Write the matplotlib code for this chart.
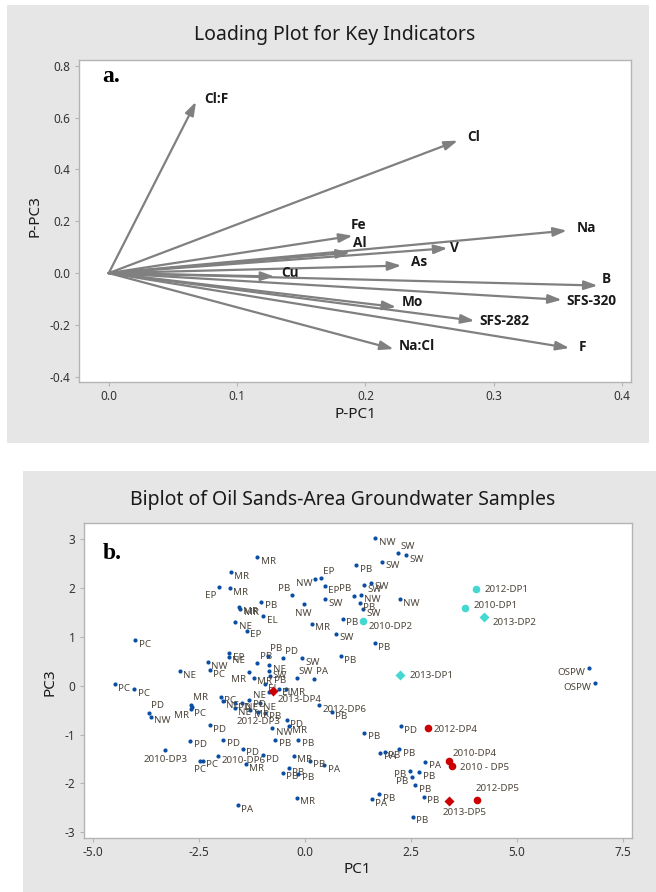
import matplotlib
matplotlib.use("Agg")
import matplotlib.pyplot as plt
from matplotlib.patches import Rectangle
from matplotlib.ticker import FormatStrFormatter

plt.rcParams['font.family'] = ['Noto Sans', 'DejaVu Sans']
plt.rcParams['axes.unicode_minus'] = False

# ---- loadings (panel a) ----
load_names = ['Cl:F', 'Cl', 'Fe', 'Al', 'Na', 'V', 'As', 'Cu', 'B',
              'SFS-320', 'Mo', 'SFS-282', 'Na:Cl', 'F']
load_pc1 = [0.068, 0.272, 0.190, 0.188, 0.357, 0.264, 0.228, 0.129, 0.381,
            0.353, 0.224, 0.285, 0.222, 0.359]
load_pc3 = [0.661, 0.511, 0.144, 0.079, 0.164, 0.096, 0.029, -0.013, -0.048,
            -0.103, -0.131, -0.184, -0.293, -0.289]

# ---- sample scores (panel b) ----
site = ['NW', 'SW', 'SW', 'MR', 'SW', 'PB', 'MR', 'NW', 'EP', 'EP',
        'EP', 'MR', 'SW', 'SW', 'PB', 'PB', 'NW', 'PB', 'SW', 'NW',
        'NW', 'SW', 'PB', 'MR', 'MR', 'EL', 'NE', 'EP', 'MR', 'PB',
        'SW', 'PB', 'PC', 'PB', 'EP', 'NE', 'NW', 'PC', 'NE', 'PB',
        'PB', 'PD', 'SW', 'NE', 'SW', 'PB', 'MR', 'MR', 'SW', 'PA',
        'EL', 'EL', 'MR', 'NE', 'PB', 'PC', 'PC', 'PD', 'NW', 'MR',
        'MR', 'PC', 'PC', 'NE', 'PD', 'NE', 'NE', 'PD', 'MR', 'NE',
        'PB', '2012-DP3', 'PD', 'NW', 'MR', 'PD', 'PD', 'PD', 'PD', 'PD',
        '2010-DP3', 'PC', 'PC', '2010-DP6', 'MR', 'PB', 'PB', 'MR', 'PB', 'PA',
        'PB', 'PB', 'PB', 'MR', 'PA', 'PB', 'PD', 'PB', 'PA', 'PB',
        'PA', 'PB', 'PB', 'PB', 'PB', 'PB', 'PB', 'PA', 'PB', '2012-DP6',
        'OSPW', 'OSPW']
pc1 = [1.66, 2.20, 2.39, -1.12, 1.81, 1.21, -1.75, 0.25, 0.39, 0.47,
       -2.03, -1.77, 1.39, 1.57, -0.30, 1.15, 1.32, 1.30, 1.36, 2.24,
       -0.03, 0.47, -1.03, -1.55, -1.52, -0.98, -1.64, -1.37, 0.16, 0.90,
       0.74, 1.645, -4.00, 0.85, -1.78, -1.80, -2.29, -2.24, -2.95, -1.12,
       -0.88, -0.51, -0.07, -0.84, -0.84, -0.82, -1.32, -1.21, -0.19, 0.22,
       -0.95, -0.62, -0.44, -0.84, 0.64, -4.49, -4.03, -3.69, -3.64, -2.68,
       -2.66, -2.69, -1.98, -1.94, -1.65, -1.49, -1.65, -1.31, -1.29, -1.06,
       -0.94, -1.10, -0.43, -0.77, -0.38, -2.24, -2.71, -1.93, -1.47, -1.00,
       -3.29, -2.48, -2.41, -2.06, -1.39, -0.70, -0.16, -0.26, 0.11, 0.46,
       -0.38, -0.52, -0.16, -0.19, -1.58, 1.40, 2.26, 2.23, 1.775, 1.89,
       2.84, 2.48, 2.70, 2.52, 2.60, 2.81, 1.76, 1.58, 2.54, 0.33,
       6.71, 6.85]
pc3 = [3.02, 2.71, 2.67, 2.63, 2.54, 2.47, 2.33, 2.18, 2.20, 2.04,
       2.02, 2.00, 2.06, 2.11, 1.85, 1.84, 1.86, 1.69, 1.57, 1.77,
       1.68, 1.77, 1.72, 1.61, 1.58, 1.42, 1.31, 1.13, 1.27, 1.375,
       1.07, 0.88, 0.94, 0.61, 0.665, 0.60, 0.49, 0.32, 0.30, 0.46,
       0.62, 0.56, 0.56, 0.42, 0.30, 0.20, 0.29, 0.17, 0.15, 0.14,
       0.04, -0.06, -0.06, -0.12, -0.54, 0.03, -0.065, -0.56, -0.63, -0.39,
       -0.44, -0.48, -0.22, -0.31, -0.35, -0.36, -0.46, -0.29, -0.50, -0.36,
       -0.55, -0.53, -0.71, -0.87, -0.82, -0.81, -1.12, -1.10, -1.29, -1.42,
       -1.31, -1.53, -1.53, -1.44, -1.61, -1.10, -1.10, -1.43, -1.53, -1.62,
       -1.68, -1.78, -1.80, -2.29, -2.44, -0.96, -0.82, -1.30, -1.37, -1.35,
       -1.55, -1.74, -1.77, -1.87, -2.03, -2.27, -2.22, -2.32, -2.68, -0.40,
       0.36, 0.05]

# highlighted deep-well samples
dp_names = ['2012-DP1', '2010-DP1', '2013-DP2', '2010-DP2', '2013-DP1', '2013-DP4',
            '2012-DP4', '2010-DP4', '2010 - DP5', '2012-DP5', '2013-DP5']
dp_pc1 = [4.04, 3.78, 4.23, 1.38, 2.24, -0.75, 2.91, 3.39, 3.47, 4.07, 3.41]
dp_pc3 = [1.98, 1.59, 1.40, 1.33, 0.22, -0.10, -0.87, -1.53, -1.64, -2.34, -2.36]

# label offsets (points) for the loading vectors
load_offsets = {'Cl:F': (6, 2), 'Cl': (7, 2.5), 'Fe': (-1.5, 7.5), 'Al': (2, 7),
                'Na': (7, 2), 'V': (2, 0), 'As': (7, 2.5), 'Cu': (5, 2.5),
                'B': (3, 4.5), 'SFS-320': (3, -1), 'Mo': (4, 4), 'SFS-282': (3.5, 0),
                'Na:Cl': (4, 2.5), 'F': (7, 1)}

# label placement: offset (pt), ha, va
place = {'r': ((2.5, -3.0), 'left', 'center'),
         'l': ((-2.5, -3.0), 'right', 'center'),
         'a': ((1.5, 2.0), 'left', 'bottom'),
         'la': ((-1.5, 2.0), 'right', 'bottom'),
         'lb': ((-2.0, -2.5), 'right', 'top'),
         'b': ((0, -3.5), 'center', 'top')}
site_place = {1: 'a', 7: 'l', 8: 'a', 10: 'lb', 14: 'la', 15: 'la', 20: 'b',
              39: 'a', 40: 'a', 41: 'a', 46: 'lb', 48: 'a', 49: 'a', 53: 'l',
              57: 'a', 59: 'a', 60: 'lb', 71: 'b', 80: 'b', 81: 'b',
              101: 'l', 103: 'l', 110: 'l', 111: 'l'}
dp_place = {'2012-DP1': ((6, 0), 'left', 'center'),
            '2010-DP1': ((6, 2), 'left', 'center'),
            '2013-DP2': ((6, -4), 'left', 'center'),
            '2010-DP2': ((4, -4), 'left', 'center'),
            '2013-DP1': ((7, 0), 'left', 'center'),
            '2013-DP4': ((3, -6), 'left', 'center'),
            '2012-DP4': ((4, -1), 'left', 'center'),
            '2010-DP4': ((3, 5), 'left', 'center'),
            '2010 - DP5': ((6, -1), 'left', 'center'),
            '2012-DP5': ((-1, 5), 'left', 'bottom'),
            '2013-DP5': ((-5, -5), 'left', 'top')}

BG = '#e6e6e6'
FRAME = '#b4b4b4'
TICK_TXT = '#333333'

fig = plt.figure(figsize=(6.56, 8.92), dpi=100)
fig.patches.append(Rectangle((7 / 656, 449 / 892), 642 / 656, 438 / 892,
                             transform=fig.transFigure, facecolor=BG, edgecolor='none', zorder=-10))
fig.patches.append(Rectangle((23 / 656, 0), 633 / 656, 421 / 892,
                             transform=fig.transFigure, facecolor=BG, edgecolor='none', zorder=-10))


def style_axes(ax):
    for s in ax.spines.values():
        s.set_color(FRAME)
        s.set_linewidth(1.0)
    ax.tick_params(direction='out', length=3, width=0.8, color=FRAME,
                   labelcolor=TICK_TXT, labelsize=8.5, pad=3)


# ---- panel a: loading plot ----
ax1 = fig.add_axes([79 / 656, 510 / 892, 552 / 656, 322 / 892])
ax1.set_xlim(-0.0232, 0.407)
ax1.set_ylim(-0.42, 0.822)
ax1.set_xticks([0.0, 0.1, 0.2, 0.3, 0.4])
ax1.set_yticks([-0.4, -0.2, 0.0, 0.2, 0.4, 0.6, 0.8])
ax1.xaxis.set_major_formatter(FormatStrFormatter('%.1f'))
ax1.yaxis.set_major_formatter(FormatStrFormatter('%.1f'))
style_axes(ax1)

for name, x, y in zip(load_names, load_pc1, load_pc3):
    ax1.annotate('', xy=(x, y), xytext=(0, 0),
                 arrowprops=dict(arrowstyle='-|>,head_length=0.8,head_width=0.27',
                                 color='#808080', lw=1.6, shrinkA=0, shrinkB=0))
    ax1.annotate(name, xy=(x, y), xytext=load_offsets[name], textcoords='offset points',
                 ha='left', va='center', fontsize=9.8, fontweight='bold',
                 family=['Open Sans', 'DejaVu Sans'], color='#1a1a1a')

fig.text(102 / 656, 815 / 892, 'a.', family='Liberation Serif', fontweight='bold',
         fontsize=17, ha='left', va='center', color='black')
fig.text(335 / 656, 857 / 892, 'Loading Plot for Key Indicators', ha='center', va='center',
         fontsize=14, color='#1a1a1a')
fig.text(355 / 656, 477 / 892, 'P-PC1', ha='center', va='center', fontsize=11, color='#1a1a1a')
fig.text(35 / 656, 676 / 892, 'P-PC3', ha='center', va='center', rotation=90,
         fontsize=11, color='#1a1a1a')

# ---- panel b: biplot ----
ax2 = fig.add_axes([83.7 / 656, 54.3 / 892, 548.3 / 656, 315 / 892])
ax2.set_xlim(-5.22, 7.72)
ax2.set_ylim(-3.11, 3.34)
ax2.set_xticks([-5.0, -2.5, 0.0, 2.5, 5.0, 7.5])
ax2.set_yticks([-3, -2, -1, 0, 1, 2, 3])
ax2.xaxis.set_major_formatter(FormatStrFormatter('%.1f'))
style_axes(ax2)

LBL = '#4d463c'
ax2.scatter(pc1, pc3, s=9, color='#0a4fa3', zorder=3, linewidths=0)
for i, (lab, x, y) in enumerate(zip(site, pc1, pc3)):
    off, ha, va = place[site_place.get(i, 'r')]
    ax2.annotate(lab, xy=(x, y), xytext=off, textcoords='offset points',
                 ha=ha, va=va, fontsize=7, color=LBL, zorder=4)

for lab, x, y in zip(dp_names, dp_pc1, dp_pc3):
    col = '#45d8d2' if ('DP1' in lab or 'DP2' in lab) else '#cc0000'
    mk = 'D' if lab.startswith('2013') else 'o'
    ax2.scatter([x], [y], s=30 if mk == 'o' else 26, marker=mk, color=col,
                zorder=5, linewidths=0)
    off, ha, va = dp_place[lab]
    ax2.annotate(lab, xy=(x, y), xytext=off, textcoords='offset points',
                 ha=ha, va=va, fontsize=7, color=LBL, zorder=6)

fig.text(103 / 656, 338.7 / 892, 'b.', family='Liberation Serif', fontweight='bold',
         fontsize=17, ha='left', va='center', color='black')
fig.text(343 / 656, 392 / 892, 'Biplot of Oil Sands-Area Groundwater Samples',
         ha='center', va='center', fontsize=14, color='#1a1a1a')
fig.text(357.7 / 656, 22.7 / 892, 'PC1', ha='center', va='center', fontsize=11, color='#1a1a1a')
fig.text(50.2 / 656, 210.3 / 892, 'PC3', ha='center', va='center', rotation=90,
         fontsize=11, color='#1a1a1a')

fig.savefig('out.png', dpi=100)
